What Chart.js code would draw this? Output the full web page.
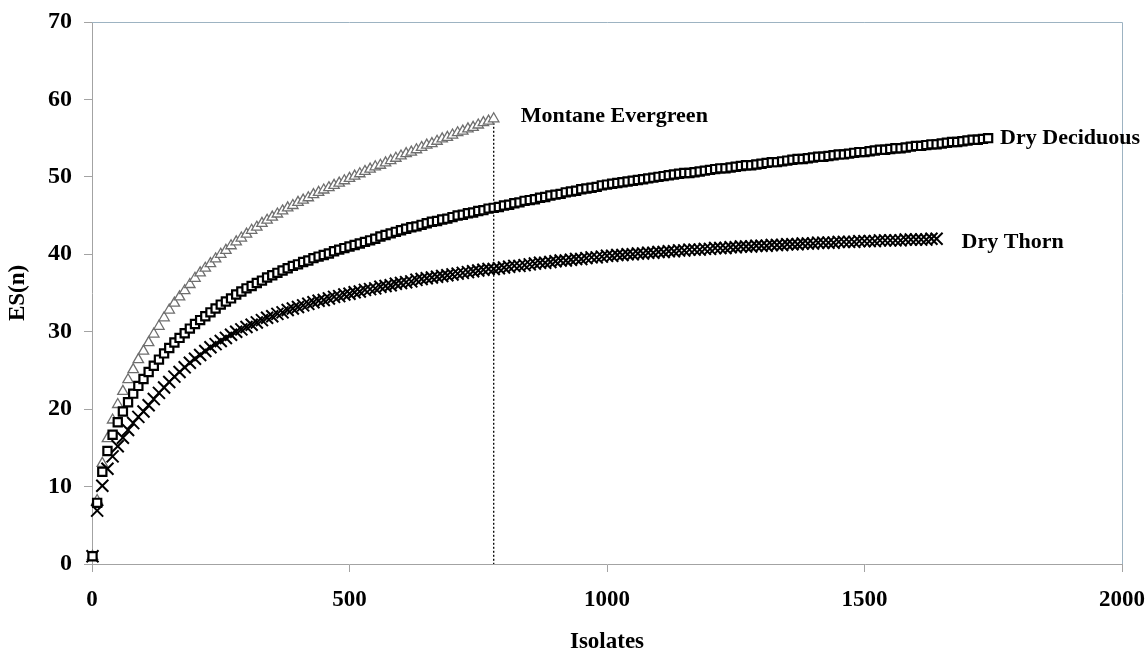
<!DOCTYPE html>
<html>
<head>
<meta charset="utf-8">
<title>ES(n) vs Isolates</title>
<script src="https://cdn.jsdelivr.net/npm/chart.js@4.4.1/dist/chart.umd.min.js"></script>
<style>
  html, body { margin: 0; padding: 0; background: #fff; }
  #wrap { width: 1148px; height: 650px; }
</style>
</head>
<body>
<div id="wrap"><canvas id="esChart" width="1148" height="650"></canvas></div>
<script>
  // number of isolates sampled (shared x values of the three curves)
  const isolates = [
    1,
    10, 20, 30, 40, 50, 60, 70, 80, 90, 100,
    110, 120, 130, 140, 150, 160, 170, 180, 190, 200,
    210, 220, 230, 240, 250, 260, 270, 280, 290, 300,
    310, 320, 330, 340, 350, 360, 370, 380, 390, 400,
    410, 420, 430, 440, 450, 460, 470, 480, 490, 500,
    510, 520, 530, 540, 550, 560, 570, 580, 590, 600,
    610, 620, 630, 640, 650, 660, 670, 680, 690, 700,
    710, 720, 730, 740, 750, 760, 770, 780, 790, 800,
    810, 820, 830, 840, 850, 860, 870, 880, 890, 900,
    910, 920, 930, 940, 950, 960, 970, 980, 990, 1000,
    1010, 1020, 1030, 1040, 1050, 1060, 1070, 1080, 1090, 1100,
    1110, 1120, 1130, 1140, 1150, 1160, 1170, 1180, 1190, 1200,
    1210, 1220, 1230, 1240, 1250, 1260, 1270, 1280, 1290, 1300,
    1310, 1320, 1330, 1340, 1350, 1360, 1370, 1380, 1390, 1400,
    1410, 1420, 1430, 1440, 1450, 1460, 1470, 1480, 1490, 1500,
    1510, 1520, 1530, 1540, 1550, 1560, 1570, 1580, 1590, 1600,
    1610, 1620, 1630, 1640, 1650, 1660, 1670, 1680, 1690, 1700,
    1710, 1720, 1730, 1740
  ];

  // ES(n) per forest type
  const dryDeciduous = [
    1.0,
    7.9, 11.9, 14.6, 16.7, 18.3, 19.7, 20.9, 22.0, 23.0, 23.9,
    24.8, 25.6, 26.4, 27.2, 27.9, 28.6, 29.2, 29.8, 30.4, 31.0,
    31.5, 32.0, 32.5, 33.0, 33.5, 33.9, 34.3, 34.8, 35.2, 35.6,
    35.9, 36.3, 36.6, 37.0, 37.3, 37.6, 37.9, 38.2, 38.5, 38.7,
    39.0, 39.2, 39.5, 39.7, 39.9, 40.1, 40.4, 40.6, 40.8, 41.0,
    41.2, 41.4, 41.6, 41.8, 42.0, 42.3, 42.5, 42.7, 42.9, 43.1,
    43.3, 43.5, 43.6, 43.8, 44.0, 44.2, 44.3, 44.5, 44.6, 44.8,
    45.0, 45.1, 45.3, 45.4, 45.6, 45.7, 45.9, 46.0, 46.1, 46.3,
    46.4, 46.6, 46.7, 46.9, 47.0, 47.1, 47.3, 47.4, 47.6, 47.7,
    47.8, 48.0, 48.1, 48.2, 48.4, 48.5, 48.6, 48.7, 48.9, 49.0,
    49.1, 49.2, 49.3, 49.4, 49.5, 49.6, 49.7, 49.8, 49.9, 50.0,
    50.1, 50.2, 50.3, 50.4, 50.5, 50.5, 50.6, 50.7, 50.8, 50.9,
    51.0, 51.1, 51.1, 51.2, 51.3, 51.4, 51.5, 51.5, 51.6, 51.7,
    51.8, 51.9, 51.9, 52.0, 52.1, 52.2, 52.3, 52.3, 52.4, 52.5,
    52.6, 52.6, 52.7, 52.8, 52.9, 52.9, 53.0, 53.1, 53.2, 53.2,
    53.3, 53.4, 53.5, 53.5, 53.6, 53.7, 53.7, 53.8, 53.9, 54.0,
    54.0, 54.1, 54.2, 54.2, 54.3, 54.4, 54.5, 54.5, 54.6, 54.7,
    54.8, 54.8, 54.9, 55.0
  ];

  const dryThorn = [
    1.0,
    6.9, 10.1, 12.3, 13.9, 15.2, 16.3, 17.3, 18.2, 19.0, 19.7,
    20.5, 21.3, 22.1, 22.8, 23.5, 24.2, 24.8, 25.4, 26.0, 26.5,
    27.0, 27.5, 28.0, 28.4, 28.8, 29.2, 29.6, 30.0, 30.3, 30.6,
    30.9, 31.2, 31.5, 31.8, 32.0, 32.3, 32.5, 32.8, 33.0, 33.2,
    33.4, 33.6, 33.8, 34.0, 34.1, 34.3, 34.5, 34.6, 34.8, 34.9,
    35.1, 35.2, 35.4, 35.5, 35.6, 35.8, 35.9, 36.0, 36.2, 36.3,
    36.4, 36.5, 36.7, 36.8, 36.9, 37.0, 37.1, 37.2, 37.3, 37.4,
    37.5, 37.6, 37.7, 37.8, 37.9, 38.0, 38.1, 38.1, 38.2, 38.3,
    38.4, 38.5, 38.5, 38.6, 38.7, 38.8, 38.9, 38.9, 39.0, 39.1,
    39.2, 39.2, 39.3, 39.4, 39.4, 39.5, 39.6, 39.6, 39.7, 39.8,
    39.8, 39.9, 39.9, 40.0, 40.0, 40.1, 40.1, 40.2, 40.2, 40.3,
    40.3, 40.4, 40.4, 40.5, 40.5, 40.6, 40.6, 40.6, 40.7, 40.7,
    40.8, 40.8, 40.8, 40.9, 40.9, 41.0, 41.0, 41.0, 41.1, 41.1,
    41.1, 41.2, 41.2, 41.2, 41.3, 41.3, 41.3, 41.4, 41.4, 41.4,
    41.5, 41.5, 41.5, 41.5, 41.6, 41.6, 41.6, 41.6, 41.7, 41.7,
    41.7, 41.7, 41.8, 41.8, 41.8, 41.8, 41.8, 41.9, 41.9, 41.9,
    41.9, 41.9, 42.0, 42.0
  ];

  const montaneEvergreen = [
    1.0,
    8.2, 13.0, 16.2, 18.6, 20.6, 22.3, 23.8, 25.1, 26.4, 27.5,
    28.6, 29.7, 30.7, 31.8, 32.8, 33.7, 34.5, 35.3, 36.1, 36.9,
    37.6, 38.2, 38.8, 39.4, 40.0, 40.5, 41.1, 41.6, 42.1, 42.6,
    43.1, 43.5, 44.0, 44.4, 44.8, 45.2, 45.6, 46.0, 46.3, 46.7,
    47.0, 47.3, 47.7, 48.0, 48.3, 48.6, 48.9, 49.2, 49.5, 49.8,
    50.1, 50.4, 50.7, 51.0, 51.3, 51.5, 51.8, 52.1, 52.4, 52.7,
    53.0, 53.2, 53.5, 53.8, 54.1, 54.3, 54.6, 54.9, 55.1, 55.4,
    55.7, 55.9, 56.2, 56.4, 56.7, 57.0, 57.2, 57.5
  ];

  const seriesNames = ['Dry Deciduous', 'Dry Thorn', 'Montane Evergreen'];
  const xTicks = [0, 500, 1000, 1500, 2000];
  const yTicks = [0, 10, 20, 30, 40, 50, 60, 70];

  const serif = '"Liberation Serif", "Times New Roman", serif';
  const axisGrey = '#a3a3a3';
  const frameBlue = '#9db3c2';
  // label position relative to the last marker of each curve
  const labelOffsets = [[12, 0], [25, 4], [27, -2]];

  function toPoints(values) {
    return values.map(function (v, i) { return { x: isolates[i], y: v }; });
  }

  // dotted drop line from the end of the montane curve down to the x axis
  const montaneEnd = montaneEvergreen.length - 1;
  const dropLine = [
    { x: isolates[montaneEnd], y: montaneEvergreen[montaneEnd] },
    { x: isolates[montaneEnd], y: 0 }
  ];

  const frame = {
    id: 'frame',
    beforeDatasetsDraw(chart) {
      const a = chart.chartArea;
      const ctx = chart.ctx;
      ctx.save();
      ctx.strokeStyle = frameBlue;
      ctx.lineWidth = 1;
      ctx.beginPath();
      ctx.moveTo(a.left, a.top + 0.5);
      ctx.lineTo(a.right + 0.5, a.top + 0.5);
      ctx.lineTo(a.right + 0.5, a.bottom);
      ctx.stroke();
      ctx.restore();
    }
  };

  const curveLabels = {
    id: 'curveLabels',
    afterDatasetsDraw(chart) {
      const ctx = chart.ctx;
      ctx.save();
      ctx.font = 'bold 22px ' + serif;
      ctx.fillStyle = '#000';
      ctx.textBaseline = 'middle';
      ctx.textAlign = 'left';
      labelOffsets.forEach(function (off, i) {
        const pts = chart.getDatasetMeta(i).data;
        const last = pts[pts.length - 1];
        ctx.fillText(seriesNames[i], last.x + off[0], last.y + off[1]);
      });
      ctx.restore();
    }
  };

  const plainTick = function (v) { return String(v); };

  const ctx = document.getElementById('esChart').getContext('2d');
  const chart = new Chart(ctx, {
    type: 'scatter',
    data: {
      datasets: [
        {
          label: seriesNames[0],
          data: toPoints(dryDeciduous),
          pointStyle: 'rect',
          pointRadius: 5.8,
          borderWidth: 2.2,
          borderColor: '#000',
          backgroundColor: '#fff',
          clip: false
        },
        {
          label: seriesNames[1],
          data: toPoints(dryThorn),
          pointStyle: 'crossRot',
          pointRadius: 8.5,
          borderWidth: 2,
          borderColor: '#000',
          backgroundColor: '#000',
          clip: false
        },
        {
          label: seriesNames[2],
          data: toPoints(montaneEvergreen),
          pointStyle: 'triangle',
          pointRadius: 6,
          borderWidth: 1.3,
          borderColor: '#6e6e6e',
          backgroundColor: '#fff',
          clip: false
        },
        {
          label: 'drop',
          data: dropLine,
          showLine: true,
          pointRadius: 0,
          borderColor: '#000',
          borderWidth: 1.3,
          borderDash: [2, 2]
        }
      ]
    },
    options: {
      responsive: false,
      animation: false,
      layout: { padding: { top: 22, right: 26, left: 0, bottom: 0 } },
      plugins: {
        legend: { display: false },
        tooltip: { enabled: false }
      },
      scales: {
        x: {
          type: 'linear',
          min: 0,
          max: 2000,
          afterBuildTicks: function (s) { s.ticks = xTicks.map(function (v) { return { value: v }; }); },
          afterFit: function (s) {
            s.height = 86;
            s.paddingLeft = 0;
            s.paddingRight = 0;
          },
          border: { color: axisGrey, width: 1 },
          grid: { drawOnChartArea: false, drawTicks: true, tickLength: 8, color: axisGrey },
          ticks: { padding: 14, color: '#000', callback: plainTick, font: { family: serif, size: 23, weight: 'bold' } },
          title: {
            display: true,
            text: 'Isolates',
            color: '#000',
            padding: { top: 0, bottom: -4 },
            font: { family: serif, size: 23, weight: 'bold', lineHeight: 1 }
          }
        },
        y: {
          type: 'linear',
          min: 0,
          max: 70,
          afterBuildTicks: function (s) { s.ticks = yTicks.map(function (v) { return { value: v }; }); },
          afterFit: function (s) {
            s.width = 92;
            s.paddingTop = 0;
            s.paddingBottom = 0;
          },
          border: { color: axisGrey, width: 1 },
          grid: { drawOnChartArea: false, drawTicks: true, tickLength: 8, color: axisGrey },
          ticks: { padding: 12, color: '#000', callback: plainTick, font: { family: serif, size: 24, weight: 'bold' } },
          title: {
            display: true,
            text: 'ES(n)',
            color: '#000',
            padding: { top: 7, bottom: 0 },
            font: { family: serif, size: 23, weight: 'bold', lineHeight: 1 }
          }
        }
      }
    },
    plugins: [frame, curveLabels]
  });
</script>
</body>
</html>
